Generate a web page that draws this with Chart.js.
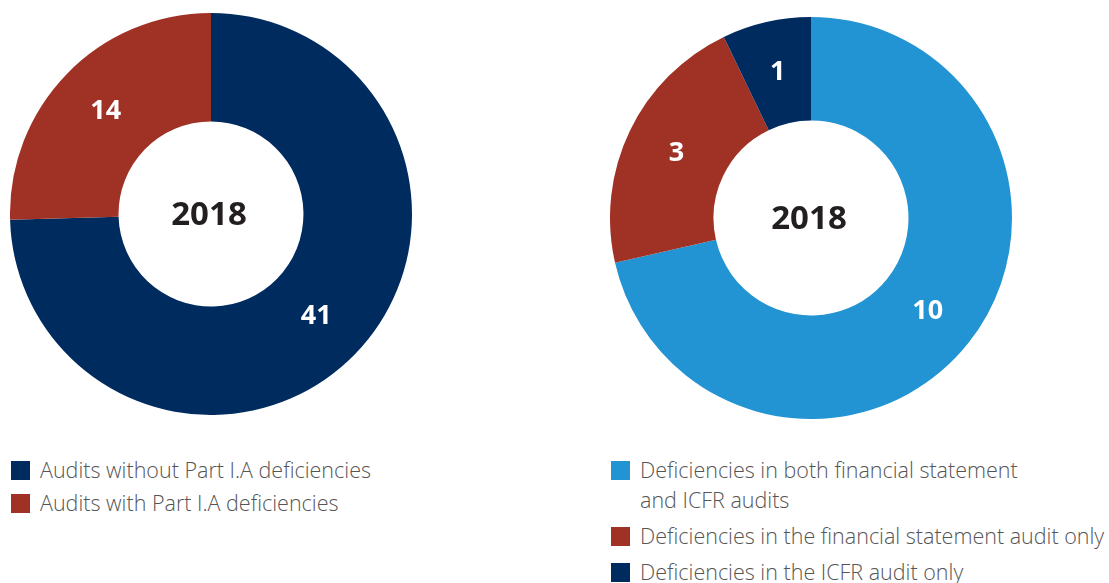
<!DOCTYPE html>
<html>
<head>
<meta charset="utf-8">
<script src="https://cdn.jsdelivr.net/npm/chart.js@4/dist/chart.umd.min.js"></script>
<style>
	body { margin: 0; background: #fff; width: 1109px; height: 583px; overflow: hidden; position: relative; }
	.wrap { position: absolute; width: 402px; height: 402px; }
	.legend { position: absolute; font-family: 'Open Sans', sans-serif; font-weight: 300; font-size: 21.5px; color: #555; white-space: nowrap; }
	.legend .item { position: relative; padding-left: 29px; line-height: 30px; }
	.legend .box { position: absolute; left: 0; top: 6px; width: 19px; height: 19px; }
</style>
</head>
<body>
<div class="wrap" style="left:10px; top:13px;"><canvas id="chart1"></canvas></div>
<div class="wrap" style="left:610px; top:17px;"><canvas id="chart2"></canvas></div>
<div class="legend" id="legend1" style="left:11px; top:455px;"></div>
<div class="legend" id="legend2" style="left:611px; top:455px;"></div>
<script>
const NAVY = '#002b5f';
const RED = '#a03225';
const BLUE = '#2394d3';

const YEAR = '2018';

const labels1 = ['Audits without Part I.A deficiencies', 'Audits with Part I.A deficiencies'];
const values1 = [41, 14];
const colors1 = [NAVY, RED];

const labels2 = [
	['Deficiencies in both financial statement', 'and ICFR audits'],
	'Deficiencies in the financial statement audit only',
	'Deficiencies in the ICFR audit only',
];
const values2 = [10, 3, 1];
const colors2 = [BLUE, RED, NAVY];

// value labels inside arcs + year in the middle
const donutText = {
	id: 'donutText',
	afterDatasetsDraw(chart) {
		const ctx = chart.ctx;
		const meta = chart.getDatasetMeta(0);
		ctx.save();
		ctx.textAlign = 'center';
		ctx.textBaseline = 'middle';
		ctx.fillStyle = '#fff';
		ctx.font = 'bold 27px "Noto Sans"';
		meta.data.forEach((arc, i) => {
			const p = arc.getProps(['startAngle', 'endAngle', 'innerRadius', 'outerRadius', 'x', 'y'], true);
			const a = (p.startAngle + p.endAngle) / 2;
			const r = (p.innerRadius + p.outerRadius) / 2;
			ctx.fillText(chart.data.datasets[0].data[i], p.x + Math.cos(a) * r, p.y + Math.sin(a) * r);
		});
		const c = meta.data[0];
		ctx.fillStyle = '#231f20';
		ctx.font = 'bold 33px "Noto Sans"';
		ctx.fillText(YEAR, c.x - 2, c.y + 2);
		ctx.restore();
	},
};

const makeChart = (id, labels, values, colors, cutout) => {
	new Chart(document.getElementById(id), {
		type: 'doughnut',
		data: {
			labels: labels,
			datasets: [{ data: values, backgroundColor: colors, borderWidth: 0 }],
		},
		options: {
			responsive: true,
			maintainAspectRatio: false,
			animation: false,
			cutout: cutout,
			layout: { padding: 0 },
			plugins: { legend: { display: false }, tooltip: { enabled: false } },
		},
		plugins: [donutText],
	});
};

const makeLegend = (id, labels, colors, gap) => {
	const el = document.getElementById(id);
	labels.forEach((l, i) => {
		const item = document.createElement('div');
		item.className = 'item';
		item.style.marginBottom = gap + 'px';
		const box = document.createElement('span');
		box.className = 'box';
		box.style.background = colors[i];
		item.appendChild(box);
		[].concat(l).forEach((line) => {
			const d = document.createElement('div');
			d.textContent = line;
			item.appendChild(d);
		});
		el.appendChild(item);
	});
};

makeChart('chart1', labels1, values1, colors1, '46%');
makeChart('chart2', labels2, values2, colors2, '48.5%');
makeLegend('legend1', labels1, colors1, 3);
makeLegend('legend2', labels2, colors2, 6);
</script>
</body>
</html>
